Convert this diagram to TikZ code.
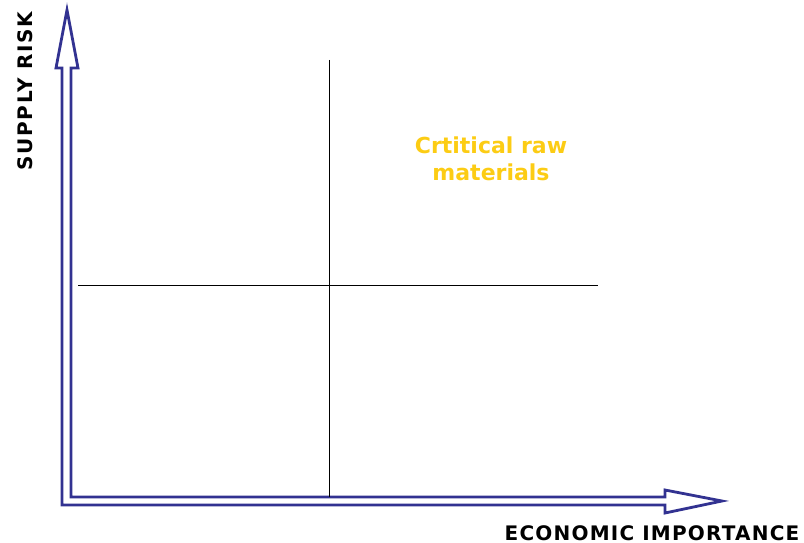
\documentclass[tikz,border=0pt]{standalone}
\usepackage{fontspec}
\setmainfont{DejaVu Sans}
\newfontfamily\econfont[LetterSpace=6]{DejaVu Sans}
\newfontfamily\riskfont[LetterSpace=8]{DejaVu Sans}
\usepackage{tikz}
\definecolor{axisblue}{RGB}{50,50,145}
\definecolor{critgold}{RGB}{252,204,20}
\tikzset{
	axislabel/.style={font=\bfseries\fontsize{20}{22}\selectfont, inner sep=0pt},
	quadtext/.style={font=\bfseries\fontsize{22}{27}\selectfont, text=critgold, align=center, inner sep=0pt},
}
\begin{document}
\begin{tikzpicture}[x=1pt, y=-1pt]
	\useasboundingbox (0,0) rectangle (804,543);

	% double-lined L axis with hollow heads
	\draw[axisblue, line width=2.8pt, line join=miter, fill=white]
		(62,505) -- (62,68) -- (56,68) -- (67,10) -- (78,68) -- (71,68)
		-- (71,497) -- (665,497) -- (665,490) -- (722,501) -- (665,513)
		-- (665,505) -- cycle;

	% quadrant lines
	\draw[black, line width=0.8pt] (329,60) -- (329,497);
	\draw[black, line width=0.8pt] (78,285) -- (598,285);

	\node[axislabel, rotate=90] (supply) at (25.5,91) {\riskfont\bfseries SUPPLY RISK};
	\node[axislabel] (econ) at (652,533.5) {\econfont\bfseries ECONOMIC IMPORTANCE};
	\node[quadtext] (crit) at (491,159) {Crtitical raw\\materials};
\end{tikzpicture}
\end{document}
